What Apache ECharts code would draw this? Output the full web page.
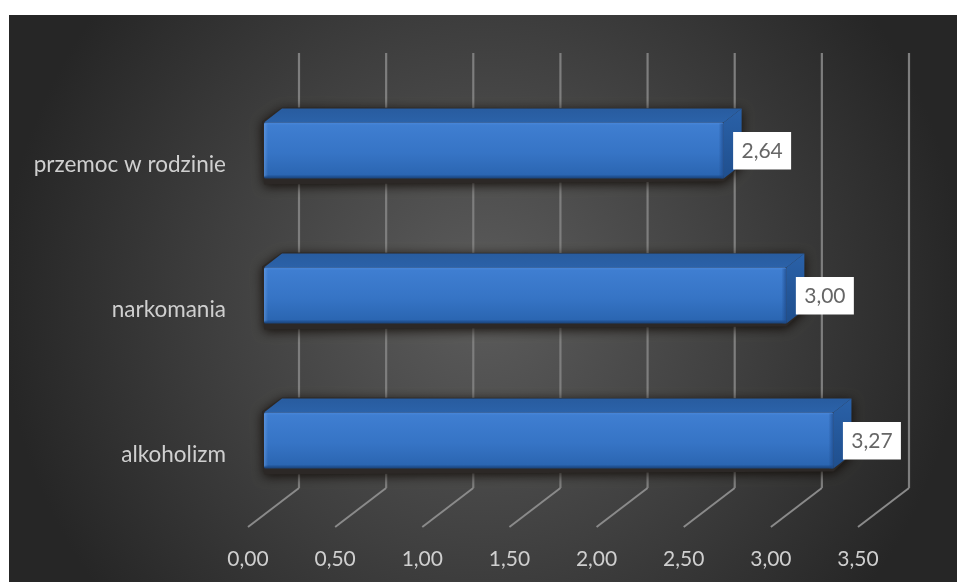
<!DOCTYPE html>
<html>
<head>
<meta charset="utf-8">
<style>html,body{margin:0;padding:0;background:#fff}#c{width:957px;height:582px}</style>
<script src="https://cdn.jsdelivr.net/npm/echarts@6/dist/echarts.min.js"></script>
</head>
<body>
<div id="c"></div>
<script>
const categories = ['alkoholizm', 'narkomania', 'przemoc w rodzinie'];
const values = [3.27, 3.00, 2.64];
const ticks = [0, 0.5, 1, 1.5, 2, 2.5, 3, 3.5];

const fmt = v => v.toFixed(2).replace('.', ',');
const FONT = 'Lato';
const WALL_DX = 51, WALL_DY = 39;
const BAR_DX = 18, BAR_DY = 14, BAR_X = 15.5, BAR_Y = -14, BAR_H = 28;

const chart = echarts.init(document.getElementById('c'), null, {renderer: 'canvas'});

function renderGrid(params, api) {
  const cs = params.coordSys;
  const x = api.coord([api.value(0), 0])[0];
  const bottom = cs.y + cs.height, top = cs.y;
  return {
    type: 'group',
    children: [
      {type: 'polyline', shape: {points: [[x, bottom], [x + WALL_DX, bottom - WALL_DY]]},
        style: {stroke: '#8a8a8a', lineWidth: 2, fill: null}, silent: true},
      {type: 'line', shape: {x1: x + WALL_DX, y1: bottom - WALL_DY, x2: x + WALL_DX, y2: top - WALL_DY},
        style: {stroke: '#7e7e7e', lineWidth: 2.2}, silent: true}
    ]
  };
}

function renderBar(params, api) {
  const v = api.value(0), cat = api.value(1);
  const s = api.coord([0, cat]), e = api.coord([v, cat]);
  const x0 = s[0] + 16, x1 = e[0] + BAR_X, cy = s[1] + BAR_Y;
  const t = cy - BAR_H, b = cy + BAR_H;
  const grad = (x, y, x2, y2, st) => new echarts.graphic.LinearGradient(x, y, x2, y2, st);
  return {
    type: 'group',
    children: [
      // soft shadow behind the block
      {type: 'polygon', shape: {points: [[x0 + BAR_DX, t - BAR_DY - 1], [x1 + BAR_DX, t - BAR_DY], [x1 + BAR_DX, b - BAR_DY], [x1, b + 3], [x0, b + 6], [x0 - 2, t - 1]]},
        style: {fill: '#2c2826', shadowBlur: 11, shadowColor: 'rgba(10,5,0,0.85)', shadowOffsetY: 2}},
      // top face
      {type: 'polygon', shape: {points: [[x0, t], [x0 + BAR_DX, t - BAR_DY], [x1 + BAR_DX, t - BAR_DY], [x1, t]]},
        style: {fill: grad(0, 0, 0, 1, [{offset: 0, color: '#285c9f'}, {offset: 1, color: '#2b62a9'}])}},
      // right face
      {type: 'polygon', shape: {points: [[x1, t], [x1 + BAR_DX, t - BAR_DY], [x1 + BAR_DX, b - BAR_DY], [x1, b]]},
        style: {fill: grad(0, 0, 0, 1, [{offset: 0, color: '#2a61a8'}, {offset: 1, color: '#1f4f8e'}])}},
      // front face
      {type: 'rect', shape: {x: x0, y: t, width: x1 - x0, height: b - t, r: 1.5},
        style: {fill: grad(0, 0, 0, 1, [
          {offset: 0, color: '#4a88db'}, {offset: 0.05, color: '#3f7ed1'},
          {offset: 0.55, color: '#3674c5'}, {offset: 0.93, color: '#2b66b2'},
          {offset: 0.97, color: '#1f4f8f'}, {offset: 1, color: '#1b4377'}])}},
      // left highlight of the front face
      {type: 'rect', shape: {x: x0, y: t + 1, width: 4, height: b - t - 3},
        style: {fill: grad(0, 0, 1, 0, [{offset: 0, color: 'rgba(120,170,235,0.45)'}, {offset: 1, color: 'rgba(120,170,235,0)'}])}},
      // bevel on right edge of the front face
      {type: 'rect', shape: {x: x1 - 5, y: t + 1, width: 5, height: b - t - 1},
        style: {fill: grad(0, 0, 1, 0, [{offset: 0, color: 'rgba(30,75,140,0)'}, {offset: 1, color: 'rgba(30,75,140,0.8)'}])}},
      // value label
      {type: 'rect', shape: {x: x1 + 9.5, y: cy - 18.5, width: 58, height: 37.5},
        style: {fill: '#ffffff'}},
      {type: 'text', style: {text: fmt(v), x: x1 + 38.5, y: cy + 0.5, align: 'center', verticalAlign: 'middle',
        fill: '#666666', font: '21px ' + FONT}}
    ]
  };
}

chart.setOption({
  animation: false,
  backgroundColor: '#ffffff',
  graphic: [{
    type: 'rect', z: -10, silent: true,
    shape: {x: 9, y: 15, width: 948, height: 567},
    style: {fill: new echarts.graphic.RadialGradient(0.5, 0.5, 0.85, [
      {offset: 0, color: '#5c5c5c'}, {offset: 0.55, color: '#3f3f3f'}, {offset: 1, color: '#262626'}])}
  }],
  grid: {left: 248, top: 92, width: 610, height: 435, containLabel: false},
  xAxis: {
    type: 'value', min: 0, max: 3.5, interval: 0.5,
    axisLine: {show: false}, axisTick: {show: false}, splitLine: {show: false},
    axisLabel: {color: '#cfcfcf', fontFamily: FONT, fontSize: 21, margin: 22, formatter: fmt, hideOverlap: false}
  },
  yAxis: {
    type: 'category', data: categories,
    axisLine: {show: false}, axisTick: {show: false}, splitLine: {show: false},
    axisLabel: {color: '#cfcfcf', fontFamily: FONT, fontSize: 22.5, margin: 22}
  },
  series: [
    {type: 'custom', name: 'grid', coordinateSystem: 'cartesian2d', clip: false, silent: true, z: 1,
      encode: {x: 0}, data: ticks.map(t => [t]), renderItem: renderGrid},
    {type: 'custom', name: 'bars', coordinateSystem: 'cartesian2d', clip: false, silent: true, z: 2,
      encode: {x: 0, y: 1}, data: values.map((v, i) => [v, i]), renderItem: renderBar}
  ]
});
</script>
</body>
</html>
